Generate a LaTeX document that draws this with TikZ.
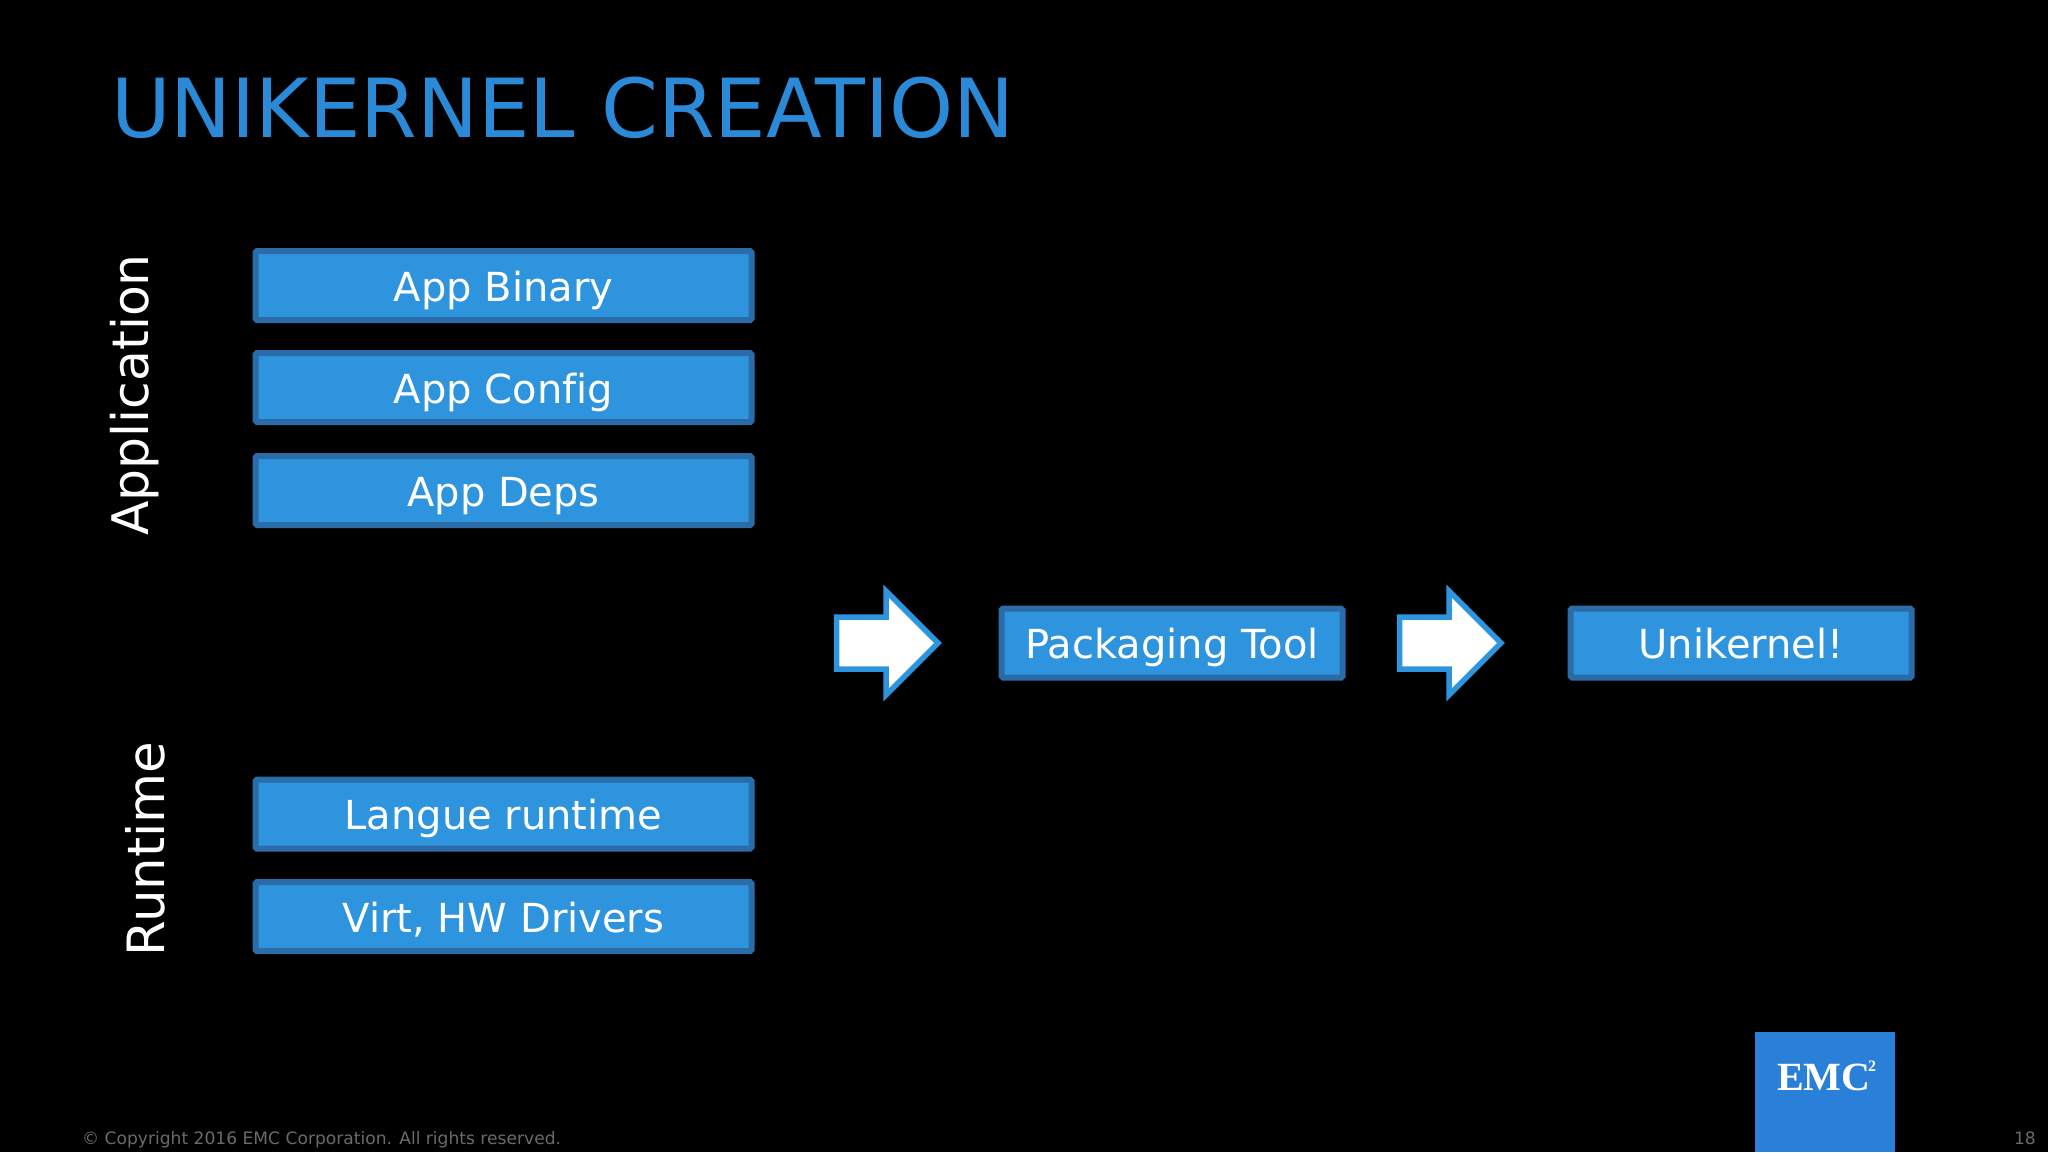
\documentclass[tikz,border=0pt]{standalone}
\usepackage{fontspec}
\setmainfont[RawFeature={-liga}]{DejaVu Sans}
\newfontfamily\logofont{Liberation Serif}
\definecolor{boxfill}{HTML}{2F94DE}
\definecolor{boxline}{HTML}{2A6CA8}
\definecolor{titleblue}{HTML}{2B8AD8}
\definecolor{logoblue}{HTML}{2A7FD8}
\definecolor{footgrey}{HTML}{6A6A6A}
\tikzset{
  x=1pt,y=-1pt,
  bluebox/.style={draw=boxline,fill=boxfill,line width=6pt,rounded corners=1.5pt,text=white,
    minimum height=69pt,inner sep=0pt,text height=31pt,text depth=0pt,font=\fontsize{40}{40}\selectfont},
  stack/.style={bluebox,minimum width=496pt},
  flow/.style={bluebox,minimum width=341pt},
  sidelabel/.style={text=white,rotate=90,inner sep=0pt},
  blockarrow/.style={draw=boxfill,fill=white,line width=5.5pt,miter limit=10},
  foot/.style={text=footgrey,inner sep=0pt,font=\fontsize{17.1}{18}\selectfont}
}
\begin{document}
\begin{tikzpicture}
\useasboundingbox (0,0) rectangle (2048,1152);
\fill[black] (0,0) rectangle (2048,1152);
\node[anchor=base west,text=titleblue,inner sep=0pt,font=\fontsize{81.5}{82}\selectfont] (title) at (111,137) {UNIKERNEL CREATION};
\node[stack] (bin) at (503.5,285.5) {App Binary};
\node[stack] (cfg) at (503.5,387.5) {App Config};
\node[stack] (deps) at (503.5,490.5) {App Deps};
\node[stack] (lang) at (503.5,814) {Langue runtime};
\node[stack] (virt) at (503.5,916.5) {Virt, HW Drivers};
\node[flow] (pack) at (1172,643) {Packaging Tool};
\node[flow] (uni) at (1741,643) {Unikernel!};
\node[sidelabel,font=\fontsize{50.4}{51}\selectfont] (appl) at (135,395) {Application};
\node[sidelabel,font=\fontsize{51.4}{52}\selectfont] (rt) at (145,849) {Runtime};
\draw[blockarrow] (836.5,617) -- (886,617) -- (886,591) -- (938,643) -- (886,695) -- (886,669) -- (836.5,669) -- cycle;
\draw[blockarrow,xshift=563pt] (836.5,617) -- (886,617) -- (886,591) -- (938,643) -- (886,695) -- (886,669) -- (836.5,669) -- cycle;
\fill[logoblue] (1755,1032) rectangle (1895,1152);
\node[anchor=base west,text=white,inner sep=0pt,font=\logofont\bfseries\fontsize{40}{40}\selectfont] (emc) at (1777,1090) {EMC};
\node[anchor=base west,text=white,inner sep=0pt,font=\logofont\bfseries\fontsize{16}{16}\selectfont] (two) at (1868,1071) {2};
\node[foot,anchor=base west] (copy) at (82,1144) {© Copyright 2016 EMC Corporation. All rights reserved.};
\node[foot,anchor=base east] (num) at (2036,1144) {18};
\end{tikzpicture}
\end{document}
